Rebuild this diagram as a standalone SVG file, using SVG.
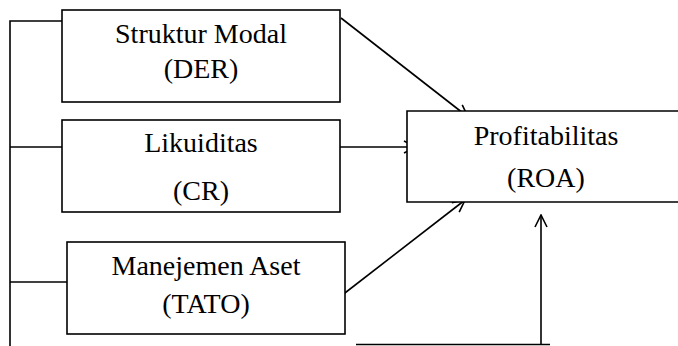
<svg xmlns="http://www.w3.org/2000/svg" width="678" height="346" viewBox="0 0 678 346">
<style>
.box{fill:#fff;stroke:#000;stroke-width:1.6}
.ln{fill:none;stroke:#000;stroke-width:1.6}
text{font-family:"Liberation Serif","Times New Roman",serif;font-size:28px;fill:#000;text-anchor:middle}
</style>
<defs>
<marker id="arr" viewBox="0 0 14 14" refX="13" refY="7" markerWidth="14" markerHeight="14" markerUnits="userSpaceOnUse" orient="auto">
<polyline points="1,1 13,7 1,13" fill="none" stroke="#000" stroke-width="1.6"/>
</marker>
</defs>
<g id="connectors">
<polyline class="ln" points="62,21 10,21 10,346"/>
<line class="ln" x1="10" y1="147" x2="62" y2="147"/>
<line class="ln" x1="10" y1="282" x2="67" y2="282"/>
<line class="ln" x1="356" y1="344.5" x2="550" y2="344.5"/>
<line class="ln" x1="341" y1="18" x2="468" y2="117" marker-end="url(#arr)"/>
<line class="ln" x1="338" y1="147" x2="416" y2="147" marker-end="url(#arr)"/>
<line class="ln" x1="341" y1="296" x2="465" y2="200" marker-end="url(#arr)"/>
<line class="ln" x1="541" y1="344" x2="541" y2="215" marker-end="url(#arr)"/>
</g>
<g id="struktur">
<rect class="box" x="62" y="10" width="278" height="92"/>
<text x="201" y="43">Struktur Modal</text>
<text x="201" y="78">(DER)</text>
</g>
<g id="likuiditas">
<rect class="box" x="62" y="120" width="278" height="92"/>
<text x="201" y="152">Likuiditas</text>
<text x="201" y="200">(CR)</text>
</g>
<g id="manajemen">
<rect class="box" x="67" y="242" width="278" height="92"/>
<text x="206" y="275">Manejemen Aset</text>
<text x="206" y="313">(TATO)</text>
</g>
<g id="profitabilitas">
<path class="ln" d="M680,111 H407 V202 H680" style="fill:#fff"/>
<text x="546" y="145">Profitabilitas</text>
<text x="546" y="187">(ROA)</text>
</g>
</svg>
